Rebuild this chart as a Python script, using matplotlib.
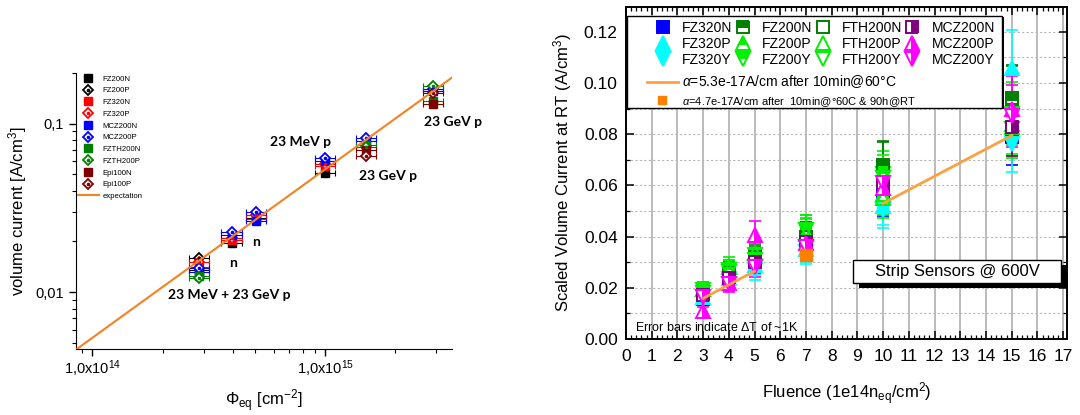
import numpy as np
import matplotlib
matplotlib.use('Agg')
import matplotlib.pyplot as plt
from matplotlib.lines import Line2D
from matplotlib.patches import Rectangle
from matplotlib.ticker import LogLocator, NullFormatter, MultipleLocator, FormatStrFormatter

plt.rcParams['font.family'] = ['Liberation Sans', 'DejaVu Sans']
plt.rcParams['mathtext.fontset'] = 'custom'
plt.rcParams['mathtext.rm'] = 'Liberation Sans'
plt.rcParams['mathtext.it'] = 'Liberation Sans:italic'
plt.rcParams['mathtext.bf'] = 'Liberation Sans:bold'

nan = np.nan

# ---------------- left panel data ----------------
phi = [2.88e14, 3.98e14, 5.05e14, 1.0e15, 1.5e15, 2.91e15]
left_names = ['FZ200N', 'FZ200P', 'FZ320N', 'FZ320P', 'MCZ200N', 'MCZ200P',
              'FZTH200N', 'FZTH200P', 'Epi100N', 'Epi100P']
FZ200N_l = [0.0135, 0.0195, 0.0276, 0.051, nan, nan]
FZ200P_l = [0.0159, nan, nan, nan, nan, nan]
FZ320N_l = [0.0142, 0.0203, 0.0272, 0.056, nan, nan]
FZ320P_l = [0.0151, 0.0210, 0.0287, 0.058, nan, nan]
MCZ200N_l = [0.0132, 0.0219, 0.0265, 0.060, 0.0785, 0.157]
MCZ200P_l = [0.0139, 0.0228, 0.0300, 0.063, 0.082, 0.160]
FZTH200N_l = [0.0125, nan, nan, nan, 0.075, 0.136]
FZTH200P_l = [0.0121, nan, nan, nan, 0.073, 0.168]
Epi100N_l = [nan, nan, nan, nan, 0.070, 0.131]
Epi100P_l = [nan, nan, nan, nan, 0.0645, 0.153]
left_values = [FZ200N_l, FZ200P_l, FZ320N_l, FZ320P_l, MCZ200N_l, MCZ200P_l,
               FZTH200N_l, FZTH200P_l, Epi100N_l, Epi100P_l]
phi_rel_err = 0.10
exp_phi = [8.5e13, 3.5e15]
exp_I = [0.00456, 0.188]

left_labels = [('23 MeV + 23 GeV p', 3.87e14, 0.0096),
               ('n', 4.03e14, 0.0150),
               ('n', 5.06e14, 0.0198),
               ('23 MeV p', 7.8e14, 0.078),
               ('23 GeV p', 1.85e15, 0.049),
               ('23 GeV p', 3.54e15, 0.103)]

# ---------------- right panel data ----------------
fluence = [3, 4, 5, 7, 10, 15]
right_names = ['FZ320N', 'FZ320P', 'FZ320Y', 'FZ200N', 'FZ200P', 'FZ200Y',
               'FTH200N', 'FTH200P', 'FTH200Y', 'MCZ200N', 'MCZ200P', 'MCZ200Y']
FZ320N = [0.0155, 0.025, 0.030, 0.037, 0.056, 0.079]
FZ320P = [0.0165, 0.024, 0.029, 0.035, 0.052, 0.106]
FZ320Y = [0.0165, 0.0235, 0.027, 0.034, 0.0505, 0.076]
FZ200N = [0.019, 0.0265, 0.0325, 0.040, 0.0675, 0.0935]
FZ200P = [0.0195, 0.028, 0.0335, 0.041, 0.0565, 0.084]
FZ200Y = [0.019, 0.027, 0.033, 0.0425, 0.0645, 0.088]
FTH200N = [0.0185, 0.026, 0.032, 0.040, 0.068, 0.094]
FTH200P = [0.0195, 0.027, 0.0335, 0.0415, 0.055, 0.083]
FTH200Y = [0.018, 0.026, 0.031, 0.0425, 0.063, 0.082]
MCZ200N = [0.017, 0.024, 0.030, 0.038, 0.061, 0.083]
MCZ200P = [0.011, 0.022, 0.0405, 0.0375, 0.059, 0.090]
MCZ200Y = [0.0165, 0.0215, 0.028, 0.036, 0.061, 0.087]
right_values = [FZ320N, FZ320P, FZ320Y, FZ200N, FZ200P, FZ200Y,
                FTH200N, FTH200P, FTH200Y, MCZ200N, MCZ200P, MCZ200Y]
cur_rel_err = 0.14
alpha_fluence = [3, 4, 5, 7, 10, 15]
alpha_line = [0.0159, 0.0212, 0.0265, nan, 0.053, 0.0795]
alpha2_fluence = [7]
alpha2_value = [0.033]

# ---------------- figure ----------------
fig = plt.figure(figsize=(10.8, 4.15), dpi=100)

# ===== left panel =====
ax1 = fig.add_axes([76/1080, 66/415, 376/1080, 276/415])
ax1.set_xscale('log')
ax1.set_yscale('log')
ax1.set_xlim(8.5e13, 3.5e15)
ax1.set_ylim(0.0046, 0.2)

left_colors = ['black', 'black', '#ff0000', '#ff0000', '#0000ff', '#0000ff',
               '#008000', '#008000', '#800000', '#800000']
orange = '#f58220'
handles = []
for name, vals, col in zip(left_names, left_values, left_colors):
    y = np.array(vals, dtype=float)
    x = np.array(phi)
    is_p = name.endswith('P')
    ax1.errorbar(x, y, xerr=phi_rel_err * x, fmt='none', ecolor=col,
                 elinewidth=0.8, capsize=2.5, capthick=0.8, zorder=2)
    if is_p:
        ax1.plot(x, y, ls='none', marker='D', ms=5, mfc='white', mec=col,
                 mew=1.3, zorder=3)
        ax1.plot(x, y, ls='none', marker='o', ms=1.6, mfc=col, mec=col,
                 zorder=4)
        h = (Line2D([], [], ls='none', marker='D', ms=5, mfc='white', mec=col, mew=1.3),
             Line2D([], [], ls='none', marker='o', ms=1.6, mfc=col, mec=col))
    else:
        ax1.plot(x, y, ls='none', marker='s', ms=5.5, mfc=col, mec=col, zorder=3)
        h = Line2D([], [], ls='none', marker='s', ms=5.5, mfc=col, mec=col)
    handles.append(h)

ln, = ax1.plot(exp_phi, exp_I, color=orange, lw=1.5, zorder=5)
handles.append(ln)
leg1 = ax1.legend(handles, left_names + ['expectation'], loc='upper left',
                  bbox_to_anchor=(0.0, 1.0), frameon=False, fontsize=5.6,
                  handlelength=2.6, handletextpad=0.5, labelspacing=0.55,
                  borderpad=0.2, borderaxespad=0.1)

for txt, xx, yy in left_labels:
    ax1.text(xx, yy, txt, ha='center', va='center', fontsize=10,
             fontweight='bold', family=['Lato', 'DejaVu Sans'], clip_on=False)

ax1.spines['top'].set_visible(False)
ax1.spines['right'].set_visible(False)
ax1.set_xticks([1e14, 1e15], [r'1,0x10$^{14}$', r'1,0x10$^{15}$'])
ax1.xaxis.set_minor_locator(LogLocator(base=10, subs=np.arange(2, 10)))
ax1.xaxis.set_minor_formatter(NullFormatter())
ax1.set_yticks([0.01, 0.1], ['0,01', '0,1'])
ax1.yaxis.set_minor_locator(LogLocator(base=10, subs=np.arange(2, 10)))
ax1.yaxis.set_minor_formatter(NullFormatter())
ax1.tick_params(which='major', direction='out', length=5, width=1, labelsize=10.5, pad=4)
ax1.tick_params(axis='x', which='major', pad=2)
ax1.tick_params(which='minor', direction='out', length=3, width=0.8)
ax1.set_xlabel(r'$\Phi_{\rm eq}$ [cm$^{-2}$]', fontsize=12, labelpad=6)
ax1.set_ylabel(r'volume current [A/cm$^{3}$]', fontsize=12, labelpad=4)

# ===== right panel =====
ax2 = fig.add_axes([626/1080, 76/415, 441/1080, 332/415])
ax2.set_xlim(0, 17.15)
ax2.set_ylim(0, 0.1297)

ax2.xaxis.set_major_locator(MultipleLocator(1))
ax2.xaxis.set_minor_locator(MultipleLocator(0.2))
ax2.yaxis.set_major_locator(MultipleLocator(0.02))
ax2.yaxis.set_minor_locator(MultipleLocator(0.01))
ax2.yaxis.set_major_formatter(FormatStrFormatter('%.2f'))
ax2.grid(True, axis='x', which='major', color='#a8a8a8', lw=1.1, ls='-')
ax2.grid(True, axis='y', which='both', color='#b8b8b8', lw=0.8, ls=(0, (2, 2)))
ax2.set_axisbelow(True)
ax2.tick_params(which='both', direction='in', top=True, right=True)
ax2.tick_params(which='major', length=6, width=1.1, labelsize=12.5)
ax2.tick_params(which='minor', length=3, width=0.9)
ax2.tick_params(axis='x', pad=7)
ax2.tick_params(axis='y', pad=6)
for sp in ax2.spines.values():
    sp.set_linewidth(1.4)

blue = '#0000ff'; cyan = '#00ffff'; dgreen = '#008000'; lgreen = '#00f000'
purple = '#800080'; magenta = '#ff00ff'
right_styles = [
    ('s', blue, 'full'), ('^', cyan, 'full'), ('v', cyan, 'full'),
    ('s', dgreen, 'top'), ('^', lgreen, 'top'), ('v', lgreen, 'top'),
    ('s', dgreen, 'none'), ('^', lgreen, 'none'), ('v', lgreen, 'none'),
    ('s', purple, 'right'), ('^', magenta, 'right'), ('v', magenta, 'right'),
]

ax2.plot(alpha_fluence, alpha_line, color='#ffa040', lw=2.0, zorder=6)
rhandles = []
for name, vals, (mk, col, fs) in zip(right_names, right_values, right_styles):
    y = np.array(vals, dtype=float)
    ms = 8.5 if mk == 's' else 9.5
    ax2.errorbar(fluence, y, yerr=cur_rel_err * y, fmt='none', ecolor=col,
                 elinewidth=1.2, capsize=4, capthick=1.2, zorder=3)
    kw = dict(ls='none', marker=mk, ms=ms, color=col, mec=col, mew=1.4,
              fillstyle=fs, markerfacecoloralt='white')
    ax2.plot(fluence, y, zorder=4, **kw)
    rhandles.append(Line2D([], [], **kw))
ax2.plot(alpha2_fluence, alpha2_value, ls='none', marker='s', ms=8,
         color='#ff8000', zorder=5)

# legend frame
ax2.add_patch(Rectangle((0.006, 0.693), 0.851, 0.276, transform=ax2.transAxes,
                        facecolor='black', edgecolor='none', zorder=7))
ax2.add_patch(Rectangle((0.002, 0.697), 0.851, 0.276, transform=ax2.transAxes,
                        facecolor='white', edgecolor='black', lw=1.0, zorder=8))
grid_names = [['FZ320N', 'FZ320P', 'FZ320Y'], ['FZ200N', 'FZ200P', 'FZ200Y'],
              ['FTH200N', 'FTH200P', 'FTH200Y'], ['MCZ200N', 'MCZ200P', 'MCZ200Y']]
lh, ll = [], []
for col_list in grid_names:
    for nm in col_list:
        i = right_names.index(nm)
        lh.append(rhandles[i]); ll.append(nm)
legA = ax2.legend(lh, ll, ncol=4, loc='upper left', bbox_to_anchor=(0.068, 0.958),
                  frameon=False, fontsize=10, handlelength=1.0, handletextpad=0.87,
                  columnspacing=0.25, labelspacing=0.15, borderpad=0, borderaxespad=0)
legA.set_zorder(9)
ax2.add_artist(legA)
hB = [Line2D([], [], color='#ffa040', lw=2.0),
      Line2D([], [], ls='none', marker='s', ms=6, color='#ff8000')]
legB = ax2.legend(hB, [r'$\alpha$=5.3e-17A/cm after 10min@60°C',
                       r'$\alpha$=4.7e-17A/cm after  10min@°60C & 90h@RT'],
                  loc='upper left', bbox_to_anchor=(0.0476, 0.8), frameon=False,
                  fontsize=10, handlelength=2.2, handletextpad=0.3,
                  labelspacing=0.35, borderpad=0, borderaxespad=0)
legB.get_texts()[1].set_fontsize(8)
legB.set_zorder(9)

# strip sensors box
ax2.add_patch(Rectangle((0.529, 0.154), 0.471, 0.069, transform=ax2.transAxes,
                        facecolor='black', edgecolor='none', zorder=7, clip_on=False))
ax2.add_patch(Rectangle((0.515, 0.169), 0.471, 0.069, transform=ax2.transAxes,
                        facecolor='white', edgecolor='black', lw=1.0, zorder=8))
ax2.text(0.7506, 0.2035, 'Strip Sensors @ 600V', transform=ax2.transAxes,
         ha='center', va='center', fontsize=12, zorder=9)
ax2.text(0.0204, 0.035, r'Error bars indicate $\Delta$T of ~1K',
         transform=ax2.transAxes, ha='left', va='center', fontsize=9, zorder=9)

ax2.set_xlabel(r'Fluence (1e14n$_{\rm eq}$/cm$^{2}$)', fontsize=12, labelpad=12)
ax2.set_ylabel(r'Scaled Volume Current at RT (A/cm$^{3}$)', fontsize=12, labelpad=7)

fig.savefig('out.png', dpi=100)
